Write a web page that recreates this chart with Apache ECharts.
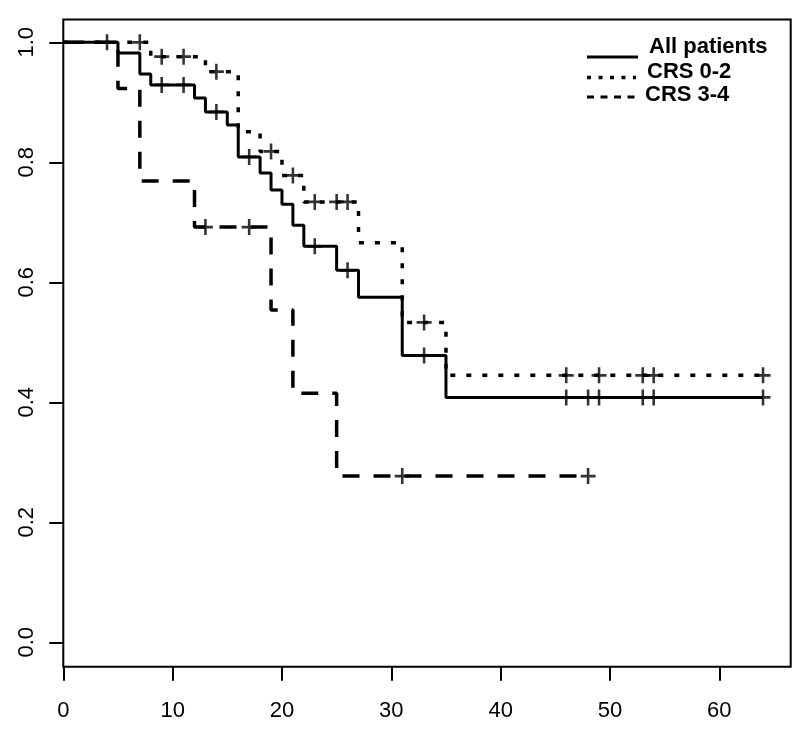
<!DOCTYPE html>
<html>
<head>
<meta charset="utf-8">
<script src="https://cdn.jsdelivr.net/npm/echarts@6/dist/echarts.min.js"></script>
<style>
html,body{margin:0;padding:0;background:#fff;}
#chart{width:800px;height:741px;}
</style>
</head>
<body>
<div id="chart"></div>
<script>
// ---- Data ----
// All patients (solid)
const allTimes = [0, 5, 7, 8, 12, 13, 15, 16, 18, 19, 20, 21, 22, 25, 27, 31, 35, 64];
const allSurv  = [1.0, 0.982, 0.947, 0.929, 0.907, 0.884, 0.862, 0.809, 0.782, 0.754, 0.730, 0.695, 0.660, 0.620, 0.575, 0.478, 0.408, 0.408];
const allCens  = [4, 9, 11, 14, 17, 23, 26, 33, 46, 48, 49, 53, 54, 64];
// CRS 0-2 (dotted)
const lowTimes = [0, 8, 13, 16, 18, 20, 22, 27, 31, 35, 64];
const lowSurv  = [1.0, 0.976, 0.951, 0.851, 0.818, 0.778, 0.734, 0.666, 0.533, 0.445, 0.445];
const lowCens  = [7, 9, 11, 14, 19, 21, 23, 25, 26, 33, 46, 49, 53, 54, 64];
// CRS 3-4 (dashed)
const highTimes = [0, 5, 7, 12, 19, 21, 25, 48];
const highSurv  = [1.0, 0.923, 0.769, 0.692, 0.554, 0.415, 0.277, 0.277];
const highCens  = [13, 17, 31, 48];

const xTicks = [0, 10, 20, 30, 40, 50, 60];
const yTicks = [0, 0.2, 0.4, 0.6, 0.8, 1.0];
const legendNames = ['All patients', 'CRS 0-2', 'CRS 3-4'];

function stepData(t, s) { return t.map((v, i) => [v, s[i]]); }
function survAt(t, s, x) {
  let v = s[0];
  for (let i = 0; i < t.length; i++) { if (t[i] <= x) v = s[i]; }
  return v;
}
function censData(t, s, c) { return c.map(x => [x, survAt(t, s, x)]); }

const plus = 'path://M-1.2,-7L1.2,-7L1.2,-1.2L7,-1.2L7,1.2L1.2,1.2L1.2,7L-1.2,7L-1.2,1.2L-7,1.2L-7,-1.2L-1.2,-1.2Z';
const lab = {fontFamily: '"Liberation Sans", Arial, sans-serif', fontSize: 22, color: '#000'};

const chart = echarts.init(document.getElementById('chart'), null, {renderer: 'canvas'});
chart.setOption({
  animation: false,
  backgroundColor: '#fff',
  grid: {left: 63.3, right: 9.3, top: 19.5, bottom: 74.3, show: true, borderColor: '#000', borderWidth: 2, backgroundColor: 'transparent'},
  xAxis: {
    type: 'value', min: 0, max: 66.53,
    axisLine: {show: false, onZero: false},
    splitLine: {show: false},
    axisTick: {show: true, length: 14, lineStyle: {color: '#000', width: 2}, customValues: xTicks},
    axisLabel: Object.assign({margin: 33, customValues: xTicks, formatter: v => String(v)}, lab)
  },
  yAxis: {
    type: 'value', min: -0.0407, max: 1.038,
    axisLine: {show: false, onZero: false},
    splitLine: {show: false},
    axisTick: {show: true, length: 14, lineStyle: {color: '#000', width: 2}, customValues: yTicks},
    axisLabel: Object.assign({margin: 25, rotate: 90, customValues: yTicks, formatter: v => v.toFixed(1)}, lab)
  },
  series: [
    {name: legendNames[2], type: 'line', step: 'end', symbol: 'none', data: stepData(highTimes, highSurv),
     lineStyle: {color: '#000', width: 3.5, type: [17, 14], cap: 'butt'}},
    {name: legendNames[1], type: 'line', step: 'end', symbol: 'none', data: stepData(lowTimes, lowSurv),
     lineStyle: {color: '#000', width: 3.5, type: [5, 11], cap: 'butt'}},
    {name: legendNames[0], type: 'line', step: 'end', symbol: 'none', data: stepData(allTimes, allSurv),
     lineStyle: {color: '#000', width: 3, type: 'solid'}},
    {type: 'scatter', symbol: plus, symbolSize: [15, 16], data: censData(highTimes, highSurv, highCens), itemStyle: {color: '#000'}, z: 5},
    {type: 'scatter', symbol: plus, symbolSize: [15, 16], data: censData(lowTimes, lowSurv, lowCens), itemStyle: {color: '#000'}, z: 5},
    {type: 'scatter', symbol: plus, symbolSize: [15, 16], data: censData(allTimes, allSurv, allCens), itemStyle: {color: '#000'}, z: 5}
  ],
  graphic: [
    {type: 'line', shape: {x1: 587, y1: 57, x2: 638, y2: 57}, style: {stroke: '#000', lineWidth: 3}},
    {type: 'line', shape: {x1: 587, y1: 77.5, x2: 636, y2: 77.5}, style: {stroke: '#000', lineWidth: 3.5, lineDash: [4, 7.5]}},
    {type: 'line', shape: {x1: 587, y1: 97, x2: 641, y2: 97}, style: {stroke: '#000', lineWidth: 3, lineDash: [7, 6.5]}},
    {type: 'text', style: {text: legendNames[0], x: 649, y: 47.3, fill: '#000', font: 'bold 22px "Liberation Sans", Arial, sans-serif', align: 'left', verticalAlign: 'middle'}},
    {type: 'text', style: {text: legendNames[1], x: 647, y: 71.6, fill: '#000', font: 'bold 22px "Liberation Sans", Arial, sans-serif', align: 'left', verticalAlign: 'middle'}},
    {type: 'text', style: {text: legendNames[2], x: 645, y: 95, fill: '#000', font: 'bold 22px "Liberation Sans", Arial, sans-serif', align: 'left', verticalAlign: 'middle'}}
  ]
});
</script>
</body>
</html>
